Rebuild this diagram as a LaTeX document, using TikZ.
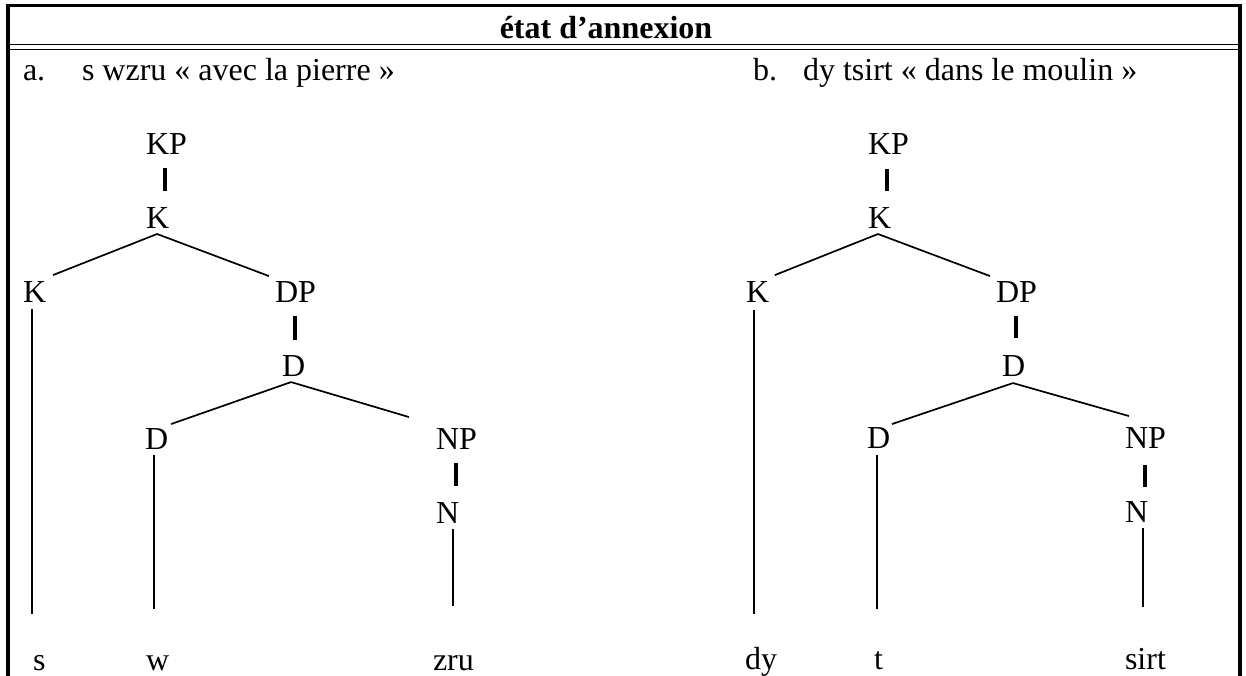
\documentclass[tikz,border=0pt]{standalone}
\usepackage{fontspec}
\setmainfont{Liberation Serif}
\usetikzlibrary{calc}
\begin{document}
\begin{tikzpicture}[x=0.5pt,y=-0.5pt,
  lbl/.style={anchor=base west,inner sep=0pt,outer sep=0pt,font=\fontsize{16pt}{19pt}\selectfont},
  hdr/.style={anchor=base,inner sep=0pt,outer sep=0pt,font=\fontsize{16pt}{19pt}\selectfont\bfseries},
  edge/.style={line width=0.85pt},
  bar/.style={line width=1.8pt},
  frameline/.style={line width=2pt},
  topline/.style={line width=1.35pt},
  ruleline/.style={line width=0.7pt}]
\useasboundingbox (0,0) rectangle (1246,675);
% table frame
\draw[topline] (6,5.5) -- (1242,5.5);
\draw[frameline] (8,4.5) -- (8,680);
\draw[frameline] (1240,4.5) -- (1240,680);
\draw[ruleline] (10,44.5) -- (1238,44.5);
\draw[ruleline] (10,49.2) -- (1238,49.2);
% header and example lines
\node[hdr] (title) at (606,38) {état d’annexion};
\node[lbl] (la) at (23,80) {a.};
\node[lbl] (ta) at (82,80) {s wzru « avec la pierre »};
\node[lbl] (lb) at (753,80) {b.};
\node[lbl] (tb) at (803,80) {dy tsirt « dans le moulin »};
% tree A
\node[lbl] (kpA) at (146,154) {KP};
\node[lbl] (kA) at (146,228) {K};
\node[lbl] (kkA) at (23,302) {K};
\node[lbl] (dpA) at (275,302) {DP};
\node[lbl] (dA) at (282,376) {D};
\node[lbl] (ddA) at (145,449) {D};
\node[lbl] (npA) at (436,449) {NP};
\node[lbl] (nA) at (436,523) {N};
\node[lbl] (sA) at (33,670) {s};
\node[lbl] (wA) at (146,670) {w};
\node[lbl] (zruA) at (433,670) {zru};
\draw[bar] ($(kpA.south)+(-1.5,14)$) -- ($(kpA.south |- kA.north)+(-1.5,-16)$);
\draw[edge] ($(kA.south)+(-0.5,6)$) -- ($(kkA.north)+(18.5,-6)$);
\draw[edge] ($(kA.south)+(-0.5,6)$) -- ($(dpA.north)+(-26.5,-5)$);
\draw[bar] ($(dpA.south)+(-0.5,14)$) -- ($(dpA.south |- dA.north)+(-0.5,-15)$);
\draw[edge] ($(dA.south)+(-2.5,6)$) -- ($(ddA.north)+(14.5,-4)$);
\draw[edge] ($(dA.south)+(-2.5,6)$) -- ($(npA.north)+(-47.5,-11)$);
\draw[bar] ($(npA.south)+(-0.5,14)$) -- ($(npA.south |- nA.north)+(-0.5,-16)$);
\draw[edge] ($(kkA.south)+(-2.6,7)$) -- ($(kkA.south |- sA.base)+(-2.6,-56)$);
\draw[edge] ($(ddA.south)+(-2.6,6)$) -- ($(ddA.south |- wA.base)+(-2.6,-61)$);
\draw[edge] ($(nA.south)+(5.4,6)$) -- ($(nA.south |- zruA.base)+(5.4,-64)$);
% tree B
\node[lbl] (kpB) at (868,154) {KP};
\node[lbl] (kB) at (868,228) {K};
\node[lbl] (kkB) at (746,302) {K};
\node[lbl] (dpB) at (996,302) {DP};
\node[lbl] (dB) at (1002,376) {D};
\node[lbl] (ddB) at (867,448) {D};
\node[lbl] (npB) at (1125,448) {NP};
\node[lbl] (nB) at (1125,522) {N};
\node[lbl] (dyB) at (745,669) {dy};
\node[lbl] (tB) at (874,669) {t};
\node[lbl] (sirtB) at (1125,669) {sirt};
\draw[bar] ($(kpB.south)+(-1.5,15)$) -- ($(kpB.south |- kB.north)+(-1.5,-16)$);
\draw[edge] ($(kB.south)+(-1.6,6)$) -- ($(kkB.north)+(17.4,-6)$);
\draw[edge] ($(kB.south)+(-1.6,6)$) -- ($(dpB.north)+(-26.5,-5)$);
\draw[bar] ($(dpB.south)+(-0.5,14)$) -- ($(dpB.south |- dB.north)+(-0.5,-17)$);
\draw[edge] ($(dB.south)+(-0.6,7)$) -- ($(ddB.north)+(13.4,-3)$);
\draw[edge] ($(dB.south)+(-0.6,7)$) -- ($(npB.north)+(-16.5,-11)$);
\draw[bar] ($(npB.south)+(-0.5,17)$) -- ($(npB.south |- nB.north)+(-0.5,-14)$);
\draw[edge] ($(kkB.south)+(-3.6,8)$) -- ($(kkB.south |- dyB.base)+(-3.6,-55)$);
\draw[edge] ($(ddB.south)+(-1.6,7)$) -- ($(ddB.south |- tB.base)+(-1.6,-60)$);
\draw[edge] ($(nB.south)+(6.4,6)$) -- ($(nB.south |- sirtB.base)+(6.4,-62)$);
\end{tikzpicture}
\end{document}
